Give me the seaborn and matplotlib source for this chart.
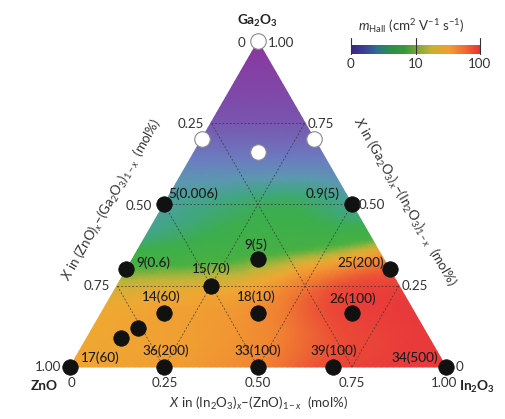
import numpy as np
import pandas as pd
import matplotlib
matplotlib.use("Agg")
import matplotlib.pyplot as plt
import matplotlib.tri as mtri
from matplotlib.colors import LinearSegmentedColormap
import seaborn as sns

# ---------------- data ----------------
# ternary composition of each sample (fractions)
in2o3_frac = [0.0, 0.0, 0.30, 0.17, 0.0, 0.50, 0.333, 0.0, 0.70, 0.25, 0.167, 0.417, 0.667, 0.12, 0.09, 0.0, 0.25, 0.50, 0.70, 1.0]
ga2o3_frac = [1.0, 0.70, 0.70, 0.66, 0.50, 0.50, 0.333, 0.30, 0.30, 0.25, 0.167, 0.167, 0.167, 0.12, 0.09, 0.0, 0.0, 0.0, 0.0, 0.0]
conductive = [False, False, False, False] + [True] * 16
sample_labels = ["", "", "", "", "5(0.006)", "0.9(5)", "9(5)", "9(0.6)", "25(200)", "15(70)",
                 "14(60)", "18(10)", "26(100)", "", "", "17(60)", "36(200)", "33(100)", "39(100)", "34(500)"]

# background mobility colour level (0..1 of colour scale) read at grid nodes, rows of constant Ga2O3 (step 1/8)
field_rows = [
    [0.76, 0.76, 0.77, 0.79, 0.83, 0.90, 0.96, 0.99, 1.00],   # Ga = 0
    [0.75, 0.76, 0.77, 0.79, 0.84, 0.92, 0.97, 1.00],         # Ga = 1/8
    [0.71, 0.72, 0.73, 0.76, 0.85, 0.94, 0.97],               # Ga = 2/8
    [0.53, 0.56, 0.59, 0.61, 0.63, 0.69],                     # Ga = 3/8
    [0.47, 0.50, 0.53, 0.53, 0.48],                           # Ga = 4/8
    [0.37, 0.37, 0.37, 0.37],                                 # Ga = 5/8
    [0.22, 0.22, 0.22],                                       # Ga = 6/8
    [0.10, 0.10],                                             # Ga = 7/8
    [0.00],                                                   # Ga = 1
]

grid_levels = [0.25, 0.50, 0.75]
bottom_ticks = ["0", "0.25", "0.50", "0.75", "1.00"]
left_ticks = ["1.00", "0.75", "0.50", "0.25", "0"]
right_ticks = ["0", "0.25", "0.50", "0.75", "1.00"]
cbar_ticks = ["0", "10", "100"]

# ---------------- style ----------------
sns.set_style("white")
plt.rcParams["font.family"] = ["Lato", "DejaVu Sans"]
plt.rcParams["mathtext.fontset"] = "custom"
plt.rcParams["mathtext.rm"] = "Lato"
plt.rcParams["mathtext.it"] = "Lato:italic"
plt.rcParams["mathtext.bf"] = "Lato:bold"

field_cmap = LinearSegmentedColormap.from_list("field", [
    (0.00, "#8a379f"), (0.20, "#7a52ad"), (0.35, "#6b7cc0"), (0.44, "#5b98b0"),
    (0.50, "#40a682"), (0.55, "#3cae4c"), (0.64, "#48b042"), (0.70, "#c2b43a"),
    (0.75, "#f0a832"), (0.85, "#f07a32"), (0.93, "#eb4c36"), (1.00, "#e8393b")])
cbar_cmap = LinearSegmentedColormap.from_list("cbar", [
    (0.00, "#3a2878"), (0.10, "#3d3f96"), (0.20, "#2f6f90"), (0.30, "#2a9048"),
    (0.42, "#3a9a3a"), (0.52, "#88a838"), (0.62, "#c8b030"), (0.75, "#f0a030"),
    (0.87, "#f07030"), (1.00, "#e83030")])

S3 = np.sqrt(3) / 2


def to_xy(a, g):
    a = np.asarray(a, float)
    g = np.asarray(g, float)
    return a + g / 2, g * S3


def px(xp, yp):
    return (xp - 70) / 376, (367 - yp) / 376


W, H = 506, 419
fig = plt.figure(figsize=(W / 100, H / 100), dpi=100)
ax = fig.add_axes([0, 0, 1, 1])
ax.set_xlim(-70 / 376, (W - 70) / 376)
ax.set_ylim((367 - H) / 376, 367 / 376)
ax.axis("off")

# ---------------- background field ----------------
na, ng, nv = [], [], []
n = len(field_rows) - 1
for k, row in enumerate(field_rows):
    for i, v in enumerate(row):
        na.append(i / n)
        ng.append(k / n)
        nv.append(v)
fx, fy = to_xy(na, ng)
tri = mtri.Triangulation(fx, fy)
refiner = mtri.UniformTriRefiner(tri)
tri_f, v_f = refiner.refine_field(np.array(nv), subdiv=3)
v_f = np.clip(v_f, 0, 1)
ax.tripcolor(tri_f, v_f, shading="gouraud", cmap=field_cmap, vmin=0, vmax=1, zorder=0)

# ---------------- dashed grid ----------------
for v in grid_levels:
    for (a0, g0, a1, g1) in [(0, v, 1 - v, v), (v, 0, v, 1 - v), (1 - v, 0, 0, 1 - v)]:
        x0, y0 = to_xy(a0, g0)
        x1, y1 = to_xy(a1, g1)
        ax.plot([x0, x1], [y0, y1], ls=(0, (2.2, 2.2)), lw=0.6, color="#333333", alpha=0.8, zorder=1)

# ---------------- sample points ----------------
px_x, px_y = to_xy(in2o3_frac, ga2o3_frac)
df = pd.DataFrame({"x": px_x, "y": px_y, "conductive": conductive, "label": sample_labels})
sns.scatterplot(data=df[df.conductive], x="x", y="y", s=125, color="#111111",
                edgecolor="#111111", linewidth=0.5, ax=ax, zorder=3, legend=False)
sns.scatterplot(data=df[~df.conductive], x="x", y="y", s=125, color="white",
                edgecolor="#8a8a8a", linewidth=0.8, ax=ax, zorder=3, legend=False)
ax.set_xlim(-70 / 376, (W - 70) / 376)
ax.set_ylim((367 - H) / 376, 367 / 376)
ax.set_xlabel("")
ax.set_ylabel("")

# label offsets in pixels (layout)
label_offsets = [None, None, None, None, (29, 10), (-29, 10), (-2, 14), (27, 7), (-29, 7), (0, 17),
                 (-3, 16), (-2, 16), (1, 14), None, None, (30, 9), (2, 16), (0, 16), (1, 16), (-31, 9)]
for (x, y, lab, off) in zip(px_x, px_y, sample_labels, label_offsets):
    if lab and off is not None:
        ax.annotate(lab, (x, y), xytext=(off[0] * 0.72, off[1] * 0.72), textcoords="offset points",
                    ha="center", va="center", fontsize=9.8, fontweight=500, color="#1c1c1c", zorder=4)

# ---------------- tick labels ----------------
tk = dict(fontsize=9.6, color="#333333", ha="center", va="center")
for lab, xp in zip(bottom_ticks, [72, 165, 258, 352, 444]):
    ax.text(*px(xp, 383), lab, **tk)
for lab, (xp, yp) in zip(left_ticks, [(48, 367), (97, 286), (139, 206), (191, 124), (242, 43)]):
    ax.text(*px(xp, yp), lab, **tk)
for lab, (xp, yp) in zip(right_ticks, [(459, 367), (415, 286), (372, 205), (321, 124), (281, 43)]):
    ax.text(*px(xp, yp), lab, **tk)

# vertex labels
vk = dict(fontsize=9.8, fontweight="bold", color="#222222", ha="center", va="center")
ax.text(*px(258, 21), r"Ga$_\mathbf{2}$O$_\mathbf{3}$", **vk)
ax.text(*px(44, 386), "ZnO", **vk)
ax.text(*px(477, 387), r"In$_\mathbf{2}$O$_\mathbf{3}$", **vk)

# axis titles
at = dict(fontsize=9.6, color="#333333", ha="center", va="center")
ax.text(*px(259, 403), r"$X$ in (In$_2$O$_3$)$_{x}$–(ZnO)$_{1-x}$  (mol%)", **at)
ax.text(*px(112, 200), r"$X$ in (ZnO)$_{x}$–(Ga$_2$O$_3$)$_{1-x}$  (mol%)", rotation=60,
        rotation_mode="anchor", **at)
ax.text(*px(404, 202), r"$X$ in (Ga$_2$O$_3$)$_{x}$–(In$_2$O$_3$)$_{1-x}$  (mol%)", rotation=-60,
        rotation_mode="anchor", **at)

# ---------------- colour bar ----------------
cb_l, cb_r, cb_t, cb_b = 351, 480, 45, 54
cax = fig.add_axes([cb_l / W, 1 - cb_b / H, (cb_r - cb_l) / W, (cb_b - cb_t) / H])
cax.imshow(np.linspace(0, 1, 256)[None, :], aspect="auto", cmap=cbar_cmap, extent=(0, 1, 0, 1))
cax.set_xlim(0, 1)
cax.set_ylim(0, 1)
cax.axis("off")
bar_h = cb_b - cb_t
for pos, lab in zip([0, 0.5, 1], cbar_ticks):
    cax.plot([pos, pos], [0, 1 + 7 / bar_h], color="#333333", lw=0.8, clip_on=False)
    cax.text(pos, -(64 - cb_b) / bar_h, lab, ha="center", va="center", fontsize=9.6, color="#333333")
cax.text(0.47, 1 + (cb_t - 26) / bar_h, r"$m_{\rm Hall}$ (cm$^2$ V$^{-1}$ s$^{-1}$)", ha="center", va="center",
         fontsize=9.6, color="#333333")

fig.savefig("out.png", dpi=100)
